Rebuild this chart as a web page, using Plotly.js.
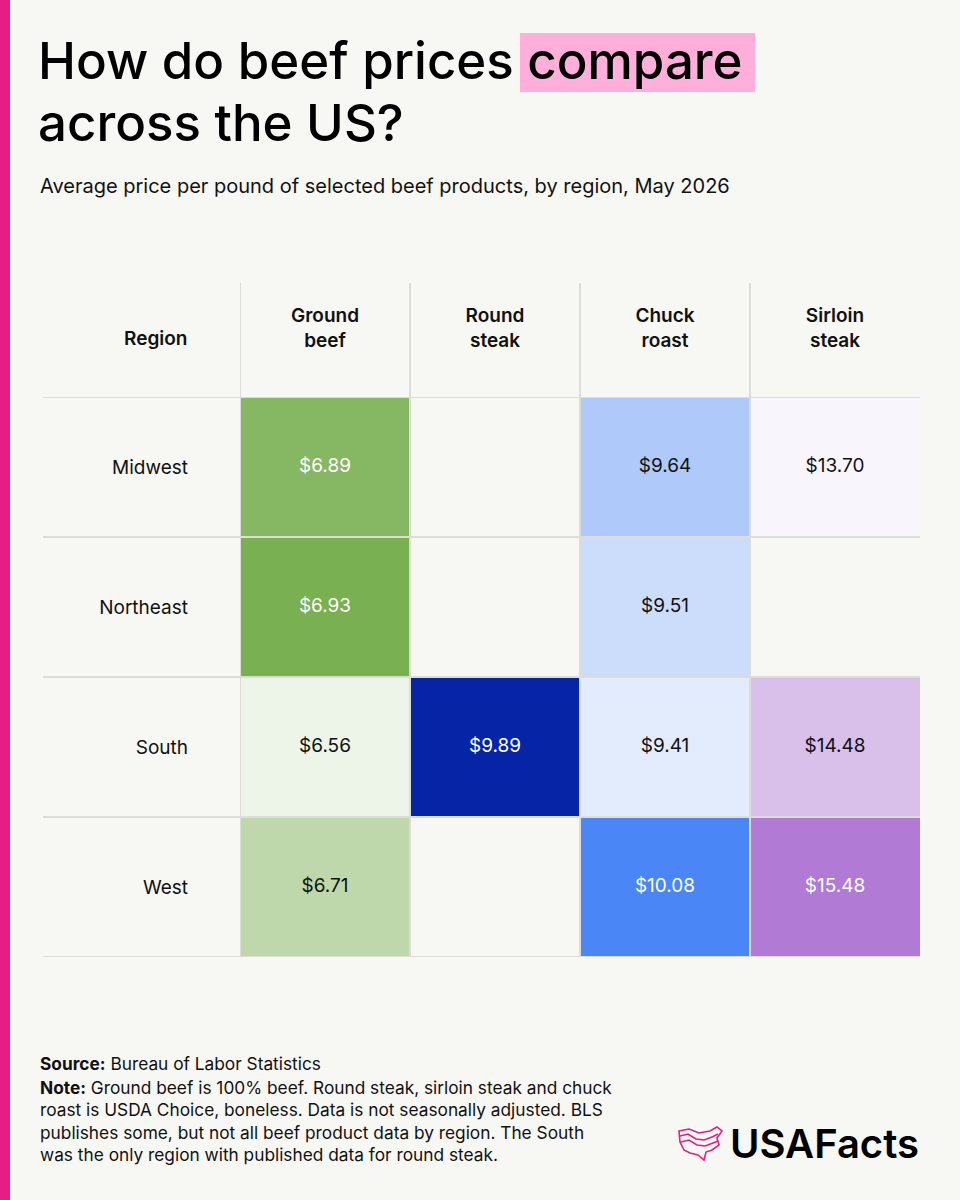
<!DOCTYPE html>
<html>
<head>
<meta charset="utf-8">
<script src="https://cdn.plot.ly/plotly-3.0.1.min.js"></script>
<style>
  html, body { margin: 0; padding: 0; background: #f7f7f3; }
  #chart { width: 960px; height: 1200px; }
</style>
</head>
<body>
<div id="chart"></div>
<script>
// Average price per pound by region, May 2026 (USD)
const regions = ['Midwest', 'Northeast', 'South', 'West'];
const products = ['Ground<br>beef', 'Round<br>steak', 'Chuck<br>roast', 'Sirloin<br>steak'];
const groundBeef = [6.89, 6.93, 6.56, 6.71];
const roundSteak = [null, null, 9.89, null];
const chuckRoast = [9.64, 9.51, 9.41, 10.08];
const sirloinSteak = [13.70, null, 14.48, 15.48];

const columns = [groundBeef, roundSteak, chuckRoast, sirloinSteak];
// light -> dark colour ramp for each product column
const ramps = [
  ['#edf4e8', '#79b052'],
  ['#0624a6', '#0624a6'],
  ['#e3ecfc', '#4a86f6'],
  ['#f8f6fc', '#b07ad5']
];

const FONT = 'Inter, "Noto Sans", sans-serif';
const BG = '#f7f7f3';
const GRID = '#dddcd7';

// plot-area pixel frame, used to place page furniture in paper units
const L = 240, R = 920, T = 397, B = 957;
const px = x => (x - L) / (R - L);
const py = y => (B - y) / (B - T);

const rowIdx = regions.map((_, j) => j);
const colIdx = products.map((_, i) => i);

const traces = [];
const tx = [], ty = [], tt = [], tc = [];

columns.forEach((vals, i) => {
  const present = vals.filter(v => v !== null);
  const lo = Math.min(...present), hi = Math.max(...present);
  traces.push({
    type: 'heatmap',
    x: [i - 0.5, i + 0.5],          // cell edges of this product column
    y: rowIdx,
    z: vals.map(v => [v]),
    zmin: lo,
    zmax: hi === lo ? lo + 1 : hi,
    colorscale: [[0, ramps[i][0]], [1, ramps[i][1]]],
    showscale: false,
    hoverinfo: 'skip'
  });
  vals.forEach((v, j) => {
    if (v === null) return;
    const t = hi === lo ? 1 : (v - lo) / (hi - lo);
    tx.push(i);
    ty.push(j);
    tt.push('$' + v.toFixed(2));
    tc.push(t >= 0.5 ? '#ffffff' : '#111111');
  });
});

traces.push({
  type: 'scatter',
  mode: 'text',
  x: tx, y: ty, text: tt,
  textposition: 'middle center',
  textfont: { family: FONT, size: 19, color: tc },
  cliponaxis: false,
  hoverinfo: 'skip'
});

const shapes = [];
// brand stripe on the left edge
shapes.push({ type: 'rect', xref: 'paper', yref: 'paper', x0: px(0), x1: px(10), y0: py(1200), y1: py(0),
  fillcolor: '#e41f84', line: { width: 0 }, layer: 'below' });
// highlight behind "compare"
shapes.push({ type: 'rect', xref: 'paper', yref: 'paper', x0: px(520), x1: px(755), y0: py(92), y1: py(33),
  fillcolor: '#ffafd9', line: { width: 0 }, layer: 'below' });
// column rules
for (let i = 0; i < products.length; i++) {
  shapes.push({ type: 'line', xref: 'x', yref: 'paper', x0: i - 0.5, x1: i - 0.5, y0: 0, y1: py(283),
    line: { color: GRID, width: 2 }, layer: 'above' });
}
// row rules
for (let j = 0; j <= regions.length; j++) {
  shapes.push({ type: 'line', xref: 'paper', yref: 'y', x0: px(43), x1: 1, y0: j - 0.5, y1: j - 0.5,
    line: { color: GRID, width: 2 }, layer: 'above' });
}
// map outline mark of the logo
const pathOf = pts => 'M ' + pts.map(p => px(p[0]) + ',' + py(p[1])).join(' L ');
shapes.push({ type: 'path', xref: 'paper', yref: 'paper',
  path: pathOf([[679,1131],[689,1129],[699,1133],[710,1131],[717,1127],[722,1131],[717,1138],[719,1145],
                [712,1150],[706,1152],[704,1160],[698,1155],[690,1153],[684,1150],[680,1142]]) + ' Z',
  line: { color: '#e41f84', width: 1.6 } });
shapes.push({ type: 'path', xref: 'paper', yref: 'paper',
  path: pathOf([[680,1136],[688,1134],[696,1139],[704,1140],[712,1137],[718,1134]]),
  line: { color: '#e41f84', width: 1.6 } });
shapes.push({ type: 'path', xref: 'paper', yref: 'paper',
  path: pathOf([[681,1142],[689,1140],[697,1145],[705,1146],[713,1143],[718,1141]]),
  line: { color: '#e41f84', width: 1.6 } });

const ann = (text, x, y, opts) => Object.assign({
  text, xref: 'paper', yref: 'paper', x: px(x), y: py(y), showarrow: false,
  xanchor: 'left', yanchor: 'middle', align: 'left',
  font: { family: FONT, size: 18, color: '#111111' }
}, opts || {});

const annotations = [
  ann('How do beef prices compare', 36, 61, { font: { family: FONT, size: 51, color: '#000000', weight: 500 } }),
  ann('across the US?', 36, 122, { font: { family: FONT, size: 51, color: '#000000', weight: 500 } }),
  ann('Average price per pound of selected beef products, by region, May 2026', 38, 186,
      { font: { family: FONT, size: 20, color: '#111111' } }),
  ann('Region', 189, 339, { xanchor: 'right', font: { family: FONT, size: 19, color: '#111111', weight: 600 } }),
  ann('<b>Source:</b> Bureau of Labor Statistics', 38, 1063, { font: { family: FONT, size: 17.3, color: '#111111' } }),
  ann('<b>Note:</b> Ground beef is 100% beef. Round steak, sirloin steak and chuck<br>' +
      'roast is USDA Choice, boneless. Data is not seasonally adjusted. BLS<br>' +
      'publishes some, but not all beef product data by region. The South<br>' +
      'was the only region with published data for round steak.', 38, 1121,
      { font: { family: FONT, size: 17.3, color: '#111111' } }),
  ann('USAFacts', 921, 1143, { xanchor: 'right', font: { family: FONT, size: 40, color: '#000000', weight: 600 } })
];

const layout = {
  width: 960, height: 1200,
  margin: { l: L, r: 960 - R, t: T, b: 1200 - B, pad: 0 },
  paper_bgcolor: BG, plot_bgcolor: 'rgba(0,0,0,0)',
  showlegend: false,
  xaxis: {
    type: 'linear', range: [-0.5, products.length - 0.5], side: 'top',
    tickmode: 'array', tickvals: colIdx, ticktext: products,
    showgrid: false, zeroline: false, showline: false, ticks: '',
    ticklabelstandoff: 45,
    tickfont: { family: FONT, size: 19, color: '#111111', weight: 600 },
    fixedrange: true
  },
  yaxis: {
    type: 'linear', range: [regions.length - 0.5, -0.5],
    tickmode: 'array', tickvals: rowIdx, ticktext: regions,
    showgrid: false, zeroline: false, showline: false, ticks: '',
    ticklabelstandoff: 51,
    tickfont: { family: FONT, size: 19, color: '#111111' },
    fixedrange: true
  },
  shapes, annotations
};

Plotly.newPlot('chart', traces, layout, { displayModeBar: false, staticPlot: true });
</script>
</body>
</html>
